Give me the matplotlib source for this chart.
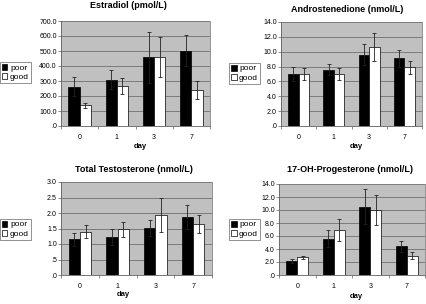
import matplotlib.pyplot as plt
from matplotlib.ticker import FuncFormatter
from matplotlib.patches import Patch

plt.rcParams['font.family'] = ['Liberation Sans', 'DejaVu Sans']

days = ['0', '1', '3', '7']

estr_poor = [262, 308, 457, 503]
estr_good = [138, 265, 460, 240]
estr_poor_err = [63, 64, 170, 104]
estr_good_err = [15, 53, 133, 63]

andro_poor = [7.0, 7.6, 9.6, 9.1]
andro_good = [7.0, 7.0, 10.6, 7.9]
andro_poor_err = [0.9, 0.75, 1.4, 1.1]
andro_good_err = [0.8, 0.8, 1.9, 0.9]

testo_poor = [1.15, 1.22, 1.52, 1.87]
testo_good = [1.40, 1.47, 1.93, 1.66]
testo_poor_err = [0.22, 0.25, 0.26, 0.40]
testo_good_err = [0.20, 0.25, 0.54, 0.29]

ohp_poor = [2.1, 5.6, 10.5, 4.4]
ohp_good = [2.7, 6.9, 10.0, 3.0]
ohp_poor_err = [0.3, 1.3, 2.7, 0.8]
ohp_good_err = [0.3, 1.7, 2.3, 0.5]

W, H = 426, 304


def fmt(v, pos):
    s = '%.1f' % v
    if s.startswith('0'):
        s = s[1:]
    return s


def panel(rect, title, poor, good, perr, gerr, ymax, ystep, leg_pos, title_pos, day_pos):
    l, t, r, b = rect
    ax = fig.add_axes([l / W, 1 - b / H, (r - l) / W, (b - t) / H])
    ax.set_facecolor('#c0c0c0')
    x = range(len(days))
    w = 0.3
    ekw = dict(ecolor='#222222', elinewidth=0.6, capsize=1.5, capthick=0.6)
    ax.bar([i - w / 2 for i in x], poor, w, color='black', edgecolor='black',
           linewidth=0.5, yerr=perr, error_kw=ekw, zorder=3)
    ax.bar([i + w / 2 for i in x], good, w, color='white', edgecolor='black',
           linewidth=0.5, yerr=gerr, error_kw=ekw, zorder=3)
    ax.set_xlim(-0.5, len(days) - 0.5)
    ax.set_ylim(0, ymax)
    n = int(round(ymax / ystep))
    ax.set_yticks([k * ystep for k in range(n + 1)])
    ax.yaxis.set_major_formatter(FuncFormatter(fmt))
    ax.set_xticks(list(x))
    ax.set_xticklabels(days)
    ax.set_xticks([i + 0.5 for i in range(-1, len(days))], minor=True)
    ax.tick_params(axis='x', which='major', length=0, labelsize=5, pad=6)
    ax.tick_params(axis='x', which='minor', length=2, width=0.5, color='#606060')
    ax.tick_params(axis='y', length=2, width=0.5, color='#606060', labelsize=5, pad=1)
    ax.grid(axis='y', color='#707070', linewidth=0.6, zorder=1)
    ax.set_axisbelow(True)
    for s in ['left', 'bottom']:
        ax.spines[s].set_color('#606060')
        ax.spines[s].set_linewidth(0.6)
    ax.spines['right'].set_color('#808080')
    ax.spines['right'].set_linewidth(0.6)
    ax.spines['top'].set_visible(False)
    fig.text(title_pos[0] / W, 1 - title_pos[1] / H, title, fontsize=6.5,
             fontweight='bold', ha='center', va='center')
    fig.text(day_pos[0] / W, 1 - day_pos[1] / H, 'day', fontsize=5.5,
             fontweight='bold', ha='center', va='center')
    handles = [Patch(facecolor='black', edgecolor='black', linewidth=0.5),
               Patch(facecolor='white', edgecolor='black', linewidth=0.5)]
    ll, lt = leg_pos
    leg = fig.legend(handles, ['poor', 'good'], loc='upper left',
                     bbox_to_anchor=(ll / W, 1 - lt / H), fontsize=6,
                     frameon=True, fancybox=False, handlelength=0.7,
                     handleheight=0.7, handletextpad=0.3, borderpad=0.2,
                     labelspacing=0.2, borderaxespad=0)
    leg.get_frame().set_edgecolor('#404040')
    leg.get_frame().set_linewidth(0.5)
    return ax


fig = plt.figure(figsize=(W / 100, H / 100), dpi=100)
fig.patch.set_facecolor('white')

panel((61, 21, 210, 126), 'Estradiol (pmol/L)', estr_poor, estr_good,
      estr_poor_err, estr_good_err, 700, 100, (0, 62), (128, 6), (140, 146))
panel((281, 22, 422, 126), 'Androstenedione (nmol/L)', andro_poor, andro_good,
      andro_poor_err, andro_good_err, 14, 2, (229, 63), (347, 10), (356, 146))
panel((61, 182, 212, 275), 'Total Testosterone (nmol/L)', testo_poor, testo_good,
      testo_poor_err, testo_good_err, 3, 0.5, (0, 219), (134, 170), (123, 295))
panel((279, 184, 425, 275), '17-OH-Progesterone (nmol/L)', ohp_poor, ohp_good,
      ohp_poor_err, ohp_good_err, 14, 2, (229, 219), (350, 169), (356, 297))

fig.savefig('out.png', dpi=100)
